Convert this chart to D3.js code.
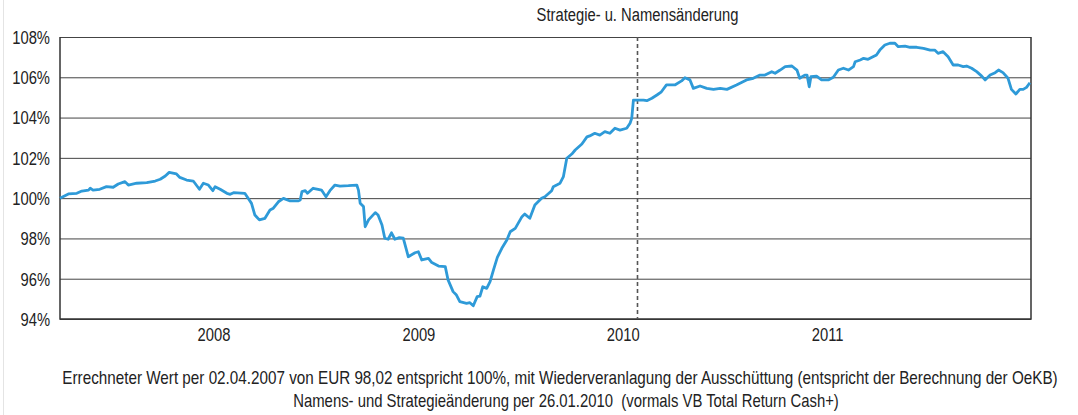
<!DOCTYPE html>
<html>
<head>
<meta charset="utf-8">
<script src="https://cdn.jsdelivr.net/npm/d3@7"></script>
<style>
  body { margin: 0; background: #fff; }
  svg text { font-family: "Liberation Sans Narrow", "Arial Narrow", "Liberation Sans", sans-serif; fill: #222; white-space: pre; }
  .grid line { stroke: #444; stroke-width: 1; }
  .frame { fill: none; stroke: #333; stroke-width: 1.5; }
  .line { fill: none; stroke: #2e9ad8; stroke-width: 2.8; stroke-linejoin: round; }
  .marker { stroke: #555; stroke-width: 1.6; stroke-dasharray: 4,3; }
</style>
</head>
<body>
<div id="chart"></div>
<script>
(function(){

  // fund value in % of 02.04.2007
  var dates = [
    '2007-04-02','2007-04-17','2007-05-02','2007-05-11','2007-05-23','2007-05-26','2007-05-31','2007-06-12','2007-06-24','2007-07-06',
    '2007-07-15','2007-07-27','2007-08-02','2007-08-17','2007-09-04','2007-09-19','2007-09-28','2007-10-07','2007-10-14','2007-10-27',
    '2007-11-02','2007-11-14','2007-11-26','2007-11-29','2007-12-07','2007-12-14','2007-12-23','2007-12-31','2008-01-04','2008-01-13',
    '2008-01-25','2008-01-31','2008-02-06','2008-02-26','2008-03-03','2008-03-09','2008-03-15','2008-03-23','2008-04-02','2008-04-11',
    '2008-04-17','2008-04-26','2008-05-05','2008-05-17','2008-05-31','2008-06-04','2008-06-07','2008-06-13','2008-06-17','2008-06-27',
    '2008-07-06','2008-07-12','2008-07-20','2008-07-27','2008-08-05','2008-08-14','2008-08-29','2008-09-13','2008-09-16','2008-09-19',
    '2008-09-25','2008-09-28','2008-10-04','2008-10-16','2008-10-21','2008-10-28','2008-11-02','2008-11-08','2008-11-14','2008-11-20',
    '2008-11-28','2008-12-05','2008-12-14','2008-12-26','2009-01-01','2009-01-07','2009-01-19','2009-01-25','2009-02-06','2009-02-18',
    '2009-02-23','2009-03-04','2009-03-10','2009-03-16','2009-03-28','2009-04-03','2009-04-09','2009-04-16','2009-04-21','2009-04-26',
    '2009-05-03','2009-05-09','2009-05-15','2009-05-22','2009-05-30','2009-06-08','2009-06-14','2009-06-23','2009-07-05','2009-07-10',
    '2009-07-19','2009-07-28','2009-08-09','2009-08-15','2009-08-27','2009-08-30','2009-09-11','2009-09-17','2009-09-23','2009-10-02',
    '2009-10-08','2009-10-20','2009-10-29','2009-11-03','2009-11-12','2009-11-21','2009-11-30','2009-12-09','2009-12-18','2009-12-27',
    '2010-01-08','2010-01-14','2010-01-17','2010-01-20','2010-01-29','2010-02-07','2010-02-13','2010-02-22','2010-03-03','2010-03-11',
    '2010-03-20','2010-04-04','2010-04-16','2010-04-22','2010-05-01','2010-05-07','2010-05-19','2010-05-31','2010-06-12','2010-06-24',
    '2010-07-06','2010-07-23','2010-08-10','2010-08-22','2010-09-03','2010-09-12','2010-09-24','2010-09-30','2010-10-09','2010-10-18',
    '2010-10-30','2010-11-08','2010-11-13','2010-11-22','2010-11-26','2010-11-30','2010-12-03','2010-12-13','2010-12-22','2011-01-03',
    '2011-01-12','2011-01-21','2011-01-30','2011-02-08','2011-02-17','2011-02-20','2011-03-01','2011-03-07','2011-03-15','2011-03-22',
    '2011-03-30','2011-04-05','2011-04-14','2011-04-23','2011-05-02','2011-05-08','2011-05-20','2011-05-29','2011-06-10','2011-06-22',
    '2011-07-04','2011-07-12','2011-07-18','2011-07-27','2011-08-05','2011-08-14','2011-08-23','2011-09-01','2011-09-07','2011-09-16',
    '2011-09-25','2011-10-04','2011-10-10','2011-10-19','2011-10-28','2011-11-03','2011-11-11','2011-11-20','2011-11-26','2011-12-04',
    '2011-12-11','2011-12-17','2011-12-23','2011-12-29'
  ];
  var values = [
    100.00,100.21,100.24,100.35,100.40,100.49,100.40,100.44,100.57,100.54,
    100.70,100.82,100.65,100.74,100.77,100.85,100.94,101.10,101.28,101.20,
    101.03,100.90,100.85,100.74,100.44,100.74,100.65,100.37,100.57,100.44,
    100.24,100.19,100.27,100.24,99.99,99.74,99.16,98.92,99.00,99.41,
    99.50,99.82,99.99,99.86,99.86,99.91,100.32,100.37,100.24,100.49,
    100.44,100.40,100.07,100.37,100.65,100.60,100.62,100.65,100.40,99.75,
    99.58,98.58,98.92,99.28,99.16,98.67,98.01,97.96,98.28,97.96,
    98.04,98.01,97.09,97.29,97.34,96.93,97.01,96.80,96.63,96.60,
    95.94,95.36,95.19,94.86,94.78,94.81,94.66,95.11,95.14,95.60,
    95.52,95.85,96.43,97.06,97.51,97.92,98.33,98.50,99.08,99.21,
    99.00,99.66,99.99,100.07,100.37,100.57,100.74,101.07,101.98,102.19,
    102.39,102.69,103.04,103.09,103.22,103.13,103.30,103.22,103.47,103.38,
    103.47,103.72,103.96,104.87,104.87,104.87,104.84,104.96,105.12,105.28,
    105.62,105.62,105.82,105.98,105.87,105.45,105.57,105.45,105.40,105.45,
    105.40,105.62,105.87,105.95,106.11,106.11,106.28,106.20,106.36,106.53,
    106.56,106.36,105.95,106.11,106.11,105.53,106.03,106.06,105.87,105.87,
    106.00,106.36,106.45,106.36,106.53,106.77,106.86,106.94,106.89,106.99,
    107.11,107.35,107.60,107.69,107.69,107.52,107.55,107.49,107.49,107.44,
    107.35,107.35,107.19,107.27,107.02,106.61,106.61,106.53,106.56,106.45,
    106.28,106.06,105.87,106.11,106.23,106.36,106.23,105.95,105.40,105.17,
    105.40,105.40,105.50,105.73
  ];

  var period = ['2007-04-02', '2011-12-31'];
  var yTicks = [94, 96, 98, 100, 102, 104, 106, 108];
  var years = ['2008', '2009', '2010', '2011'];
  var changeDate = '2010-01-26';
  var changeLabel = 'Strategie- u. Namensänderung';
  var notes = [
    'Errechneter Wert per 02.04.2007 von EUR 98,02 entspricht 100%, mit Wiederveranlagung der Ausschüttung (entspricht der Berechnung der OeKB)',
    'Namens- und Strategieänderung per 26.01.2010  (vormals VB Total Return Cash+)'
  ];

  var W = 1078, H = 415;
  var margin = { top: 37, right: 47, bottom: 96, left: 60 };
  var width = W - margin.left - margin.right;
  var height = H - margin.top - margin.bottom;

  var parse = d3.utcParse('%Y-%m-%d');
  var data = dates.map(function(d, i){ return [parse(d), values[i]]; });

  var x = d3.scaleUtc().domain(period.map(parse)).range([0, width]);
  var y = d3.scaleLinear().domain([94, 108]).range([height, 0]);

  // no narrow face installed: squeeze the glyphs to Arial Narrow proportions
  function narrow(sel, k) {
    sel.each(function(){
      var len = this.getComputedTextLength();
      d3.select(this)
        .attr('textLength', len * (k || 0.82))
        .attr('lengthAdjust', 'spacingAndGlyphs');
    });
  }

  var svg = d3.select('#chart').append('svg')
      .attr('width', W).attr('height', H);

  // faint page border on the left
  svg.append('line')
    .attr('x1', 3.5).attr('x2', 3.5).attr('y1', 0).attr('y2', H)
    .attr('stroke', '#e4e4e4');

  var g = svg.append('g')
    .attr('transform', 'translate(' + margin.left + ',' + margin.top + ')');

  // horizontal grid + y labels
  var yAxis = d3.axisLeft(y).tickValues(yTicks).tickSize(-width)
    .tickFormat(function(d){ return d + '%'; });
  g.append('g').attr('class', 'grid').call(yAxis)
    .call(function(s){
      s.select('.domain').remove();
      s.selectAll('text').attr('x', -10).attr('dy', '0.35em')
        .style('font-size', '18px').call(narrow);
    });

  // frame: left, right, bottom
  g.append('path').attr('class', 'frame')
    .attr('d', 'M0,0V' + height + 'H' + width + 'V0');

  // year labels, no ticks
  var xAxis = d3.axisBottom(x)
    .tickValues(years.map(function(yr){ return parse(yr + '-01-01'); }))
    .tickSize(0).tickPadding(9)
    .tickFormat(d3.utcFormat('%Y'));
  g.append('g').attr('transform', 'translate(0,' + height + ')').call(xAxis)
    .call(function(s){
      s.select('.domain').remove();
      s.selectAll('text').style('font-size', '18px').call(narrow);
    });

  // strategy change marker
  var cx = Math.round(x(parse(changeDate))) + 0.5;
  g.append('line').attr('class', 'marker')
    .attr('x1', cx).attr('x2', cx).attr('y1', 0).attr('y2', height);
  g.append('text')
    .attr('x', cx).attr('y', -16)
    .attr('text-anchor', 'middle')
    .style('font-size', '18px')
    .text(changeLabel)
    .call(narrow);

  var line = d3.line()
    .x(function(d){ return x(d[0]); })
    .y(function(d){ return y(d[1]); });

  g.append('path').datum(data)
    .attr('class', 'line')
    .attr('d', line);

  // footnotes, squeezed with a transform so they fit the page width
  var noteWidths = [996, 546];
  var noteX = [560, 566];
  svg.selectAll('.note')
    .data(notes)
    .enter().append('text')
      .attr('class', 'note')
      .attr('text-anchor', 'middle')
      .style('font-size', '18px')
      .text(function(d){ return d; })
      .each(function(d, i){
        var k = noteWidths[i] / this.getComputedTextLength();
        d3.select(this).attr('transform',
          'translate(' + noteX[i] + ',' + (384 + i * 23) + ') scale(' + k + ',1)');
      });

})();
</script>
</body>
</html>
